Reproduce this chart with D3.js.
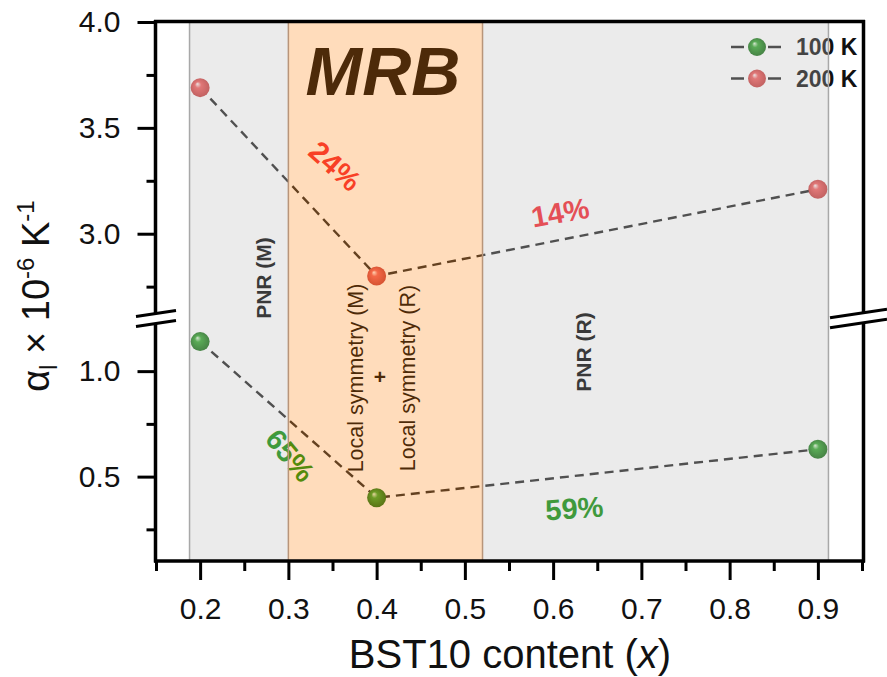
<!DOCTYPE html>
<html>
<head>
<meta charset="utf-8">
<script src="https://cdn.jsdelivr.net/npm/d3@7"></script>
<style>
  body { margin: 0; background: #fff; }
  text { font-family: "Liberation Sans", Arial, sans-serif; }
</style>
</head>
<body>
<div id="chart"></div>
<script>
const WIDTH = 887, HEIGHT = 677;

// data
const bstContent = [0.2, 0.4, 0.9];
const alpha100K = [1.14, 0.40, 0.63];
const alpha200K = [3.69, 2.80, 3.21];
const seriesNames = ["100 K", "200 K"];

const xTicks = [0.2, 0.3, 0.4, 0.5, 0.6, 0.7, 0.8, 0.9];
const xMinor = [0.15, 0.25, 0.35, 0.45, 0.55, 0.65, 0.75, 0.85, 0.95];
const yTicksUpper = [3.0, 3.5, 4.0];
const yMinorUpper = [2.75, 3.25, 3.75];
const yTicksLower = [0.5, 1.0];
const yMinorLower = [0.25, 0.75];

// shaded composition ranges
const pnrRanges = [[0.188, 0.3], [0.52, 0.912]];
const mrbRange = [0.3, 0.52];

// drop percentages and where they sit (data units)
const dropLabels = ["24%", "14%", "65%", "59%"];
const dropX = [0.353, 0.608, 0.302, 0.624];
const dropY = [3.32, 3.10, 0.60, 0.35];
const dropSeries = [1, 1, 0, 0];
const dropAngle = [42, -10, 50, -4];

const svg = d3.select("#chart").append("svg")
    .attr("width", WIDTH)
    .attr("height", HEIGHT);

const x = d3.scaleLinear().domain([0.15, 0.95]).range([156, 862]);
const yUp = d3.scaleLinear().domain([2.6, 4.0]).range([318.4, 22]);
const yLow = d3.scaleLinear().domain([0.1, 1.25]).range([561, 318.4]);
const y = v => v >= 2 ? yUp(v) : yLow(v);

const BREAK = 318.4;
const TOP = 21.5, BOTTOM = 561, LEFT = 155.5, RIGHT = 863.5;

const labelRed = "#f5202a", labelGreen = "#0a8c05";

// ball gradients
const defs = svg.append("defs");
const ballStops = [
  ["ball0", ["#e0f8d8", "#2fa32a", "#116510"]],
  ["ball1", ["#fff4f4", "#f05a5a", "#c03838"]]
];
ballStops.forEach(([id, cols]) => {
  const g = defs.append("radialGradient").attr("id", id)
      .attr("cx", "50%").attr("cy", "50%").attr("r", "55%")
      .attr("fx", "35%").attr("fy", "30%");
  g.append("stop").attr("offset", "0%").attr("stop-color", cols[0]);
  g.append("stop").attr("offset", "30%").attr("stop-color", cols[1]);
  g.append("stop").attr("offset", "100%").attr("stop-color", cols[2]);
});

// series lines + points
const series = [alpha100K, alpha200K];
const line = d3.line().x(d => x(d[0])).y(d => y(d[1]));
series.forEach((vals, i) => {
  const pts = bstContent.map((c, k) => [c, vals[k]]);
  svg.append("path")
      .attr("d", line(pts))
      .attr("fill", "none")
      .attr("stroke", "#222")
      .attr("stroke-width", 2.4)
      .attr("stroke-dasharray", "9,6");
  svg.selectAll(null)
      .data(pts)
      .enter()
      .append("circle")
        .attr("cx", d => x(d[0]))
        .attr("cy", d => y(d[1]))
        .attr("r", 9.5)
        .attr("fill", `url(#ball${i})`);
});

// region texts
svg.append("text")
    .attr("x", 383).attr("y", 95)
    .attr("text-anchor", "middle")
    .attr("font-size", 68).attr("font-weight", "bold").attr("font-style", "italic")
    .attr("fill", "#000")
    .text("MRB");

const vText = (tx, ty, str, size, weight) => svg.append("text")
    .attr("transform", `translate(${tx},${ty}) rotate(-90)`)
    .attr("text-anchor", "middle")
    .attr("dy", "0.35em")
    .attr("font-size", size)
    .attr("font-weight", weight)
    .attr("fill", "#000")
    .text(str);

vText(264, 278, "PNR (M)", 21, "bold");
vText(584, 352, "PNR (R)", 21, "bold");
vText(355, 378, "Local symmetry (M)", 21.5, "normal");
vText(407, 378, "Local symmetry (R)", 21.5, "normal");
svg.append("text")
    .attr("x", 380).attr("y", 377).attr("dy", "0.35em")
    .attr("text-anchor", "middle")
    .attr("font-size", 21).attr("font-weight", "bold")
    .text("+");

// drop labels
dropLabels.forEach((t, i) => {
  svg.append("text")
      .attr("transform", `translate(${x(dropX[i])},${y(dropY[i])}) rotate(${dropAngle[i]})`)
      .attr("text-anchor", "middle")
      .attr("dy", "0.35em")
      .attr("font-size", 29)
      .attr("font-weight", "bold")
      .attr("fill", dropSeries[i] ? labelRed : labelGreen)
      .text(t);
});

// legend
const legY = d3.scalePoint().domain(seriesNames).range([47, 78.5]);
seriesNames.forEach((name, i) => {
  const ly = legY(name);
  const g = svg.append("g");
  g.append("line").attr("x1", 731).attr("x2", 744).attr("y1", ly).attr("y2", ly)
      .attr("stroke", "#222").attr("stroke-width", 2.5);
  g.append("line").attr("x1", 768).attr("x2", 781).attr("y1", ly).attr("y2", ly)
      .attr("stroke", "#222").attr("stroke-width", 2.5);
  g.append("circle").attr("cx", 757).attr("cy", ly).attr("r", 9)
      .attr("fill", `url(#ball${i})`);
  g.append("text").attr("x", 796).attr("y", ly).attr("dy", "0.35em")
      .attr("font-size", 23).attr("font-weight", "bold").attr("fill", "#111")
      .text(name);
});

// translucent region overlays (drawn on top, like the original)
pnrRanges.forEach(r => {
  svg.append("rect")
      .attr("x", x(r[0])).attr("y", TOP)
      .attr("width", x(r[1]) - x(r[0])).attr("height", BOTTOM - TOP)
      .attr("fill", "rgb(190,190,190)").attr("fill-opacity", 0.3);
});
[pnrRanges[0][0], pnrRanges[1][1]].forEach(v => {
  svg.append("line").attr("x1", x(v)).attr("x2", x(v)).attr("y1", TOP).attr("y2", BOTTOM)
      .attr("stroke", "#a8a8a8").attr("stroke-width", 1.5);
});
svg.append("rect")
    .attr("x", x(mrbRange[0])).attr("y", TOP)
    .attr("width", x(mrbRange[1]) - x(mrbRange[0])).attr("height", BOTTOM - TOP)
    .attr("fill", "rgb(255,140,30)").attr("fill-opacity", 0.3)
    .attr("stroke", "#b8957a").attr("stroke-width", 1.5);

// axes
const axisStyle = g => {
  g.select(".domain").remove();
  g.selectAll(".tick line").attr("stroke", "#000").attr("stroke-width", 3);
  g.selectAll(".tick text").attr("font-size", 30).attr("fill", "#111")
      .attr("font-family", "Liberation Sans, Arial, sans-serif");
};
const fmt = d3.format(".1f");

svg.append("g").attr("transform", `translate(${LEFT},0)`)
    .call(d3.axisLeft(yUp).tickValues(yTicksUpper).tickSize(18).tickPadding(17).tickFormat(fmt))
    .call(axisStyle);
svg.append("g").attr("transform", `translate(${LEFT},0)`)
    .call(d3.axisLeft(yUp).tickValues(yMinorUpper).tickSize(9).tickFormat(""))
    .call(axisStyle);
svg.append("g").attr("transform", `translate(${LEFT},0)`)
    .call(d3.axisLeft(yLow).tickValues(yTicksLower).tickSize(18).tickPadding(17).tickFormat(fmt))
    .call(axisStyle);
svg.append("g").attr("transform", `translate(${LEFT},0)`)
    .call(d3.axisLeft(yLow).tickValues(yMinorLower).tickSize(9).tickFormat(""))
    .call(axisStyle);

svg.append("g").attr("transform", `translate(0,${BOTTOM})`)
    .call(d3.axisBottom(x).tickValues(xTicks).tickSize(19).tickPadding(18).tickFormat(fmt))
    .call(axisStyle);
svg.append("g").attr("transform", `translate(0,${BOTTOM})`)
    .call(d3.axisBottom(x).tickValues(xMinor).tickSize(10).tickFormat(""))
    .call(axisStyle);

// frame lines
const frame = [
  [LEFT, TOP - 1.5, LEFT, BOTTOM + 1.5],
  [RIGHT, TOP - 1.5, RIGHT, BOTTOM + 1.5],
  [LEFT - 1.5, TOP, RIGHT + 1.5, TOP],
  [LEFT - 1.5, BOTTOM, RIGHT + 1.5, BOTTOM]
];
svg.selectAll(null).data(frame).enter().append("line")
    .attr("x1", d => d[0]).attr("y1", d => d[1])
    .attr("x2", d => d[2]).attr("y2", d => d[3])
    .attr("stroke", "#000").attr("stroke-width", 3.5);

// axis break marks
const slope = -0.15;
[[136, 176], [830, 887]].forEach(([x0, x1]) => {
  const xm = (x0 + x1) / 2;
  const yAt = (xx, off) => BREAK + off + slope * (xx - xm);
  svg.append("polygon")
      .attr("points", [[x0, yAt(x0, -5)], [x1, yAt(x1, -5)], [x1, yAt(x1, 5)], [x0, yAt(x0, 5)]].join(" "))
      .attr("fill", "#fff");
  [-5, 5].forEach(off => {
    svg.append("line")
        .attr("x1", x0).attr("y1", yAt(x0, off))
        .attr("x2", x1).attr("y2", yAt(x1, off))
        .attr("stroke", "#000").attr("stroke-width", 3);
  });
});

// axis titles
const yTitle = svg.append("text")
    .attr("transform", "translate(49,296) rotate(-90)")
    .attr("text-anchor", "middle")
    .attr("font-size", 38)
    .attr("fill", "#111");
yTitle.append("tspan").text("α");
yTitle.append("tspan").attr("font-size", 23).attr("dy", 8).text("l");
yTitle.append("tspan").attr("dy", -8).text(" × 10");
yTitle.append("tspan").attr("font-size", 24).attr("dy", -15).text("-6");
yTitle.append("tspan").attr("dy", 15).text(" K");
yTitle.append("tspan").attr("font-size", 24).attr("dy", -15).text("-1");

const xTitle = svg.append("text")
    .attr("x", 510).attr("y", 668)
    .attr("text-anchor", "middle")
    .attr("font-size", 40)
    .attr("fill", "#111");
xTitle.append("tspan").text("BST10 content (");
xTitle.append("tspan").attr("font-style", "italic").text("x");
xTitle.append("tspan").text(")");
</script>
</body>
</html>
